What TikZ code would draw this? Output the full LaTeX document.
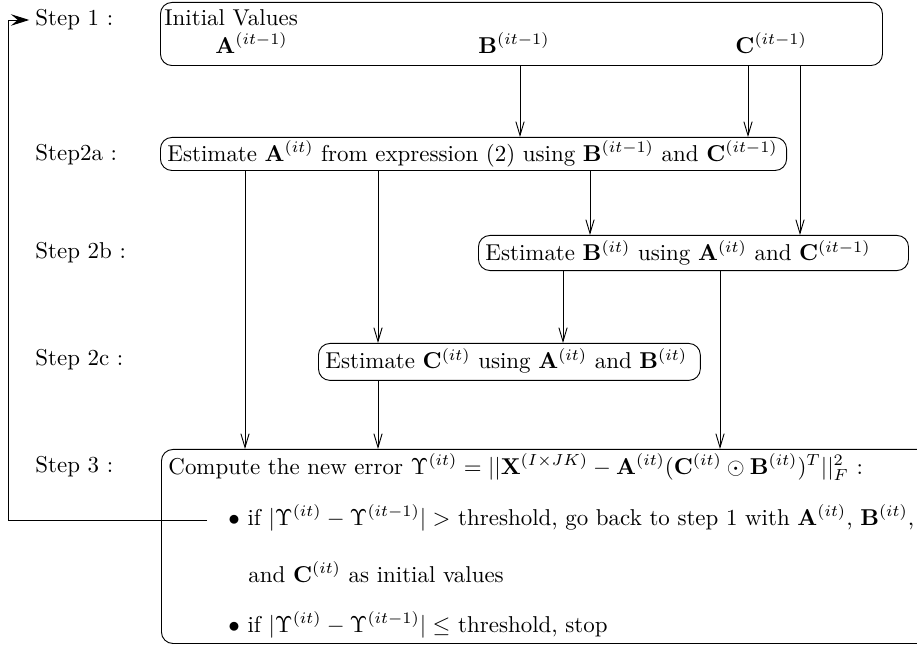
\documentclass[tikz,border=0pt]{standalone}
\usepackage{amsmath}
\usepackage{amssymb}
\usepackage{bm}
\usetikzlibrary{positioning}
\usetikzlibrary{arrows.meta}
\tikzset{
	stepbox/.style={draw, rectangle, rounded corners=5pt, inner sep=0pt, anchor=north west},
	steplabel/.style={anchor=west, inner sep=0pt},
	boxtext/.style={anchor=west, inner sep=0pt},
}

\begin{document}
\begin{tikzpicture}[x=0.436pt, y=-0.436pt]
		\useasboundingbox (0,0) rectangle (917,650);
		
		% step labels on the left
		\node (s1) [steplabel] at (35,20) {Step 1 :};
		\node (s2a) [steplabel] at (35,155) {Step2a :};
		\node (s2b) [steplabel] at (35,253) {Step 2b :};
		\node (s2c) [steplabel] at (35,360) {Step 2c :};
		\node (s3) [steplabel] at (35,467) {Step 3 :};
		
		% boxes
		\node (init) [stepbox, minimum width=314.8pt, minimum height=27.5pt] at (160,2) {};
		\node (ea) [stepbox, minimum width=273pt, minimum height=14.4pt] at (160,137) {};
		\node (eb) [stepbox, minimum width=187.5pt, minimum height=15.3pt] at (478,235) {};
		\node (ec) [stepbox, minimum width=166.5pt, minimum height=16.1pt] at (318,343) {};
		\node (err) [stepbox, minimum width=345pt, minimum height=84.6pt] at (161,449) {};
		
		% texts
		\node (iv) [boxtext] at (164,18) {Initial Values};
		\node (a0) [boxtext] at (215,43) {$\mathbf{A}^{(it-1)}$};
		\node (b0) [boxtext] at (478,43) {$\mathbf{B}^{(it-1)}$};
		\node (c0) [boxtext] at (735,43) {$\mathbf{C}^{(it-1)}$};
		\node (ta) [boxtext] at (167,154) {Estimate $\mathbf{A}^{(it)}$ from expression (2) using $\mathbf{B}^{(it-1)}$ and $\mathbf{C}^{(it-1)}$};
		\node (tb) [boxtext] at (485,253) {Estimate $\mathbf{B}^{(it)}$ using $\mathbf{A}^{(it)}$ and $\mathbf{C}^{(it-1)}$};
		\node (tc) [boxtext] at (325,361) {Estimate $\mathbf{C}^{(it)}$ using $\mathbf{A}^{(it)}$ and $\mathbf{B}^{(it)}$};
		\node (t3) [boxtext] at (168,467) {Compute the new error $\Upsilon^{(it)} = ||\mathbf{X}^{(I\times JK)} - \mathbf{A}^{(it)}(\mathbf{C}^{(it)} \odot \mathbf{B}^{(it)})^T||_F^2$ :};
		\node (t31) [boxtext] at (228,518) {$\bullet$ if $|\Upsilon^{(it)} - \Upsilon^{(it-1)}| >$ threshold, go back to step 1 with $\mathbf{A}^{(it)}$, $\mathbf{B}^{(it)}$,};
		\node (t32) [boxtext] at (248,572) {and $\mathbf{C}^{(it)}$ as initial values};
		\node (t33) [boxtext] at (228,625) {$\bullet$ if $|\Upsilon^{(it)} - \Upsilon^{(it-1)}| \leq$ threshold, stop};
		
		\begin{scope}[black, -{Straight Barb[length=6pt, width=3.6pt]}]
			\draw (520,0 |- init.south) -- (520,0 |- ea.north);
			\draw (748,0 |- init.south) -- (748,0 |- ea.north);
			\draw (800,0 |- init.south) -- (800,0 |- eb.north);
			\draw (590,0 |- ea.south) -- (590,0 |- eb.north);
			\draw (245,0 |- ea.south) -- (245,0 |- err.north);
			\draw (378,0 |- ea.south) -- (378,0 |- ec.north);
			\draw (563,0 |- eb.south) -- (563,0 |- ec.north);
			\draw (378,0 |- ec.south) -- (378,0 |- err.north);
			\draw (720,0 |- eb.south) -- (720,0 |- err.north);
		\end{scope}
		
		% going back to step 1
		\coordinate (back) at (207,520);
		\coordinate (corner) at (8,520);
		\draw [-{Stealth[length=8pt, width=5pt, inset=3pt]}, shorten >=2.5pt] (back) -- (corner) |- (s1.west);
	\end{tikzpicture}
\end{document}
